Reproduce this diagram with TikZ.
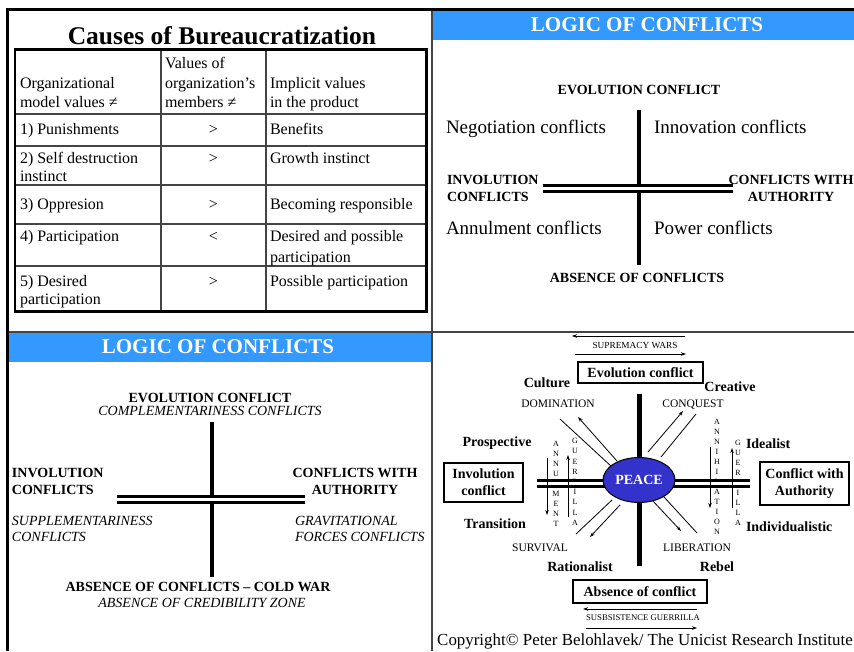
\documentclass[tikz,border=0pt]{standalone}
\usepackage{fontspec}
\setmainfont{Liberation Serif}
\usetikzlibrary{shapes.geometric,arrows.meta}
\definecolor{hdrblue}{HTML}{3399FF}
\definecolor{peaceblue}{HTML}{3333CC}
\definecolor{rulegray}{HTML}{444444}

\begin{document}
\begin{tikzpicture}[x=1pt,y=-1pt,
  lbl/.style={inner sep=0pt,outer sep=0pt,text depth=0pt},
  tb/.style={lbl,font=\fontsize{16}{19}\selectfont,text height=10.6pt,anchor=west},
  tbc/.style={lbl,font=\fontsize{16}{19}\selectfont,text height=10.6pt},
  ttl/.style={lbl,font=\fontsize{25.5}{30}\selectfont\bfseries,text height=16.8pt},
  hdr/.style={lbl,font=\fontsize{21}{25}\selectfont\bfseries,text height=13.9pt,text=white},
  capb/.style={lbl,font=\fontsize{14}{17}\selectfont\bfseries,text height=9.2pt},
  capi/.style={lbl,font=\fontsize{14}{17}\selectfont\itshape,text height=9.2pt},
  quad/.style={lbl,font=\fontsize{19}{23}\selectfont,text height=12.5pt,anchor=west},
  dirlbl/.style={lbl,font=\fontsize{11.5}{14}\selectfont,text height=7.6pt},
  warlbl/.style={lbl,font=\fontsize{9.3}{11}\selectfont,text height=6.1pt},
  sublbl/.style={lbl,font=\fontsize{8.7}{10}\selectfont,text height=5.7pt},
  cpr/.style={lbl,font=\fontsize{16.9}{20}\selectfont,text height=11.1pt},
  vlet/.style={inner sep=0pt,outer sep=0pt,font=\fontsize{8}{10}\selectfont,align=center,anchor=north},
  framebox/.style={draw,line width=1.2pt,font=\fontsize{14}{17}\selectfont\bfseries,align=center,inner sep=0pt},
  axisline/.style={line width=4.5pt},
  dbl/.style={double,line width=3pt,double distance=3pt},
  arr/.style={line width=0.8pt,-{Stealth[length=5pt,width=3.5pt]}},
  ln/.style={line width=0.8pt}]

\useasboundingbox (0,0) rectangle (854,651);
\fill[white] (0,0) rectangle (854,651);

% ---------- blue slide headers ----------
\fill[hdrblue] (433,10) rectangle (854,40);
\fill[hdrblue] (9,333) rectangle (433,362);

% ---------- slide frames ----------
\draw[rulegray,line width=1.5pt] (432,8) -- (432,651);
\draw[rulegray,line width=1.5pt] (7,332) -- (854,332);
\draw[line width=2.5pt] (6.3,9.3) -- (854,9.3);
\draw[line width=2.5pt] (7.5,8) -- (7.5,651);

% ================= Causes of Bureaucratization =================
\node[ttl] (title) at (222,36) {Causes of Bureaucratization};

% table rules
\draw[rulegray,line width=1.5pt] (161,49.5) -- (161,311.5);
\draw[rulegray,line width=1.5pt] (266,49.5) -- (266,311.5);
\foreach \ry in {114,146,185,224,266}
  \draw[rulegray,line width=1.5pt] (15,\ry) -- (426.5,\ry);
\draw[line width=2.5pt] (15,49.5) rectangle (426.5,311.5);

% header row
\node[tb] (h1a) at (20,83)  {Organizational};
\node[tb] (h1b) at (20,102) {model values ≠};
\node[tb] (h2a) at (165,63) {Values of};
\node[tb] (h2b) at (165,83) {organization’s};
\node[tb] (h2c) at (165,102) {members ≠};
\node[tb] (h3a) at (270,83) {Implicit values};
\node[tb] (h3b) at (270,102) {in the product};

% body rows
\node[tb]  (r1a) at (20,129)    {1) Punishments};
\node[tbc] (r1b) at (213.5,129) {>};
\node[tb]  (r1c) at (270,129)   {Benefits};

\node[tb]  (r2a) at (20,158)    {2) Self destruction};
\node[tb]  (r2d) at (20,176.5)  {instinct};
\node[tbc] (r2b) at (213.5,158) {>};
\node[tb]  (r2c) at (270,158)   {Growth instinct};

\node[tb]  (r3a) at (20,204)    {3) Oppresion};
\node[tbc] (r3b) at (213.5,204) {>};
\node[tb]  (r3c) at (270,204)   {Becoming responsible};

\node[tb]  (r4a) at (20,236)    {4) Participation};
\node[tbc] (r4b) at (213.5,236) {<};
\node[tb]  (r4c) at (270,236)   {Desired and possible};
\node[tb]  (r4d) at (270,257)   {participation};

\node[tb]  (r5a) at (20,281)    {5) Desired};
\node[tb]  (r5d) at (20,299)    {participation};
\node[tbc] (r5b) at (213.5,281) {>};
\node[tb]  (r5c) at (270,281)   {Possible participation};

% ================= Logic of conflicts (top right) =================
\node[hdr] (hdrA) at (647,25) {LOGIC OF CONFLICTS};
\node[capb] (evoA) at (639,90) {EVOLUTION CONFLICT};
\coordinate (vA1) at (639,110);
\coordinate (vA2) at (639,265);
\coordinate (hA1) at (543,188.5);
\coordinate (hA2) at (733,188.5);
\draw[axisline] (vA1) -- (vA2);
\draw[dbl] (hA1) -- (hA2);
\node[quad] (negA) at (446,127) {Negotiation conflicts};
\node[quad] (innA) at (654,127) {Innovation conflicts};
\node[quad] (annA) at (446,228) {Annulment conflicts};
\node[quad] (powA) at (654,228) {Power conflicts};
\node[capb,anchor=west] (invA1) at (447,180) {INVOLUTION};
\node[capb,anchor=west] (invA2) at (447,197) {CONFLICTS};
\node[capb] (autA1) at (791,180) {CONFLICTS WITH};
\node[capb] (autA2) at (791,197) {AUTHORITY};
\node[capb] (absA) at (637,278) {ABSENCE OF CONFLICTS};

% ================= Logic of conflicts (bottom left) =================
\node[hdr] (hdrB) at (218,347) {LOGIC OF CONFLICTS};
\node[capb] (evoB) at (210,398) {EVOLUTION CONFLICT};
\node[capi] (comB) at (210,411) {COMPLEMENTARINESS CONFLICTS};
\coordinate (vB1) at (212,422);
\coordinate (vB2) at (212,577);
\coordinate (hB1) at (117,499.5);
\coordinate (hB2) at (305,499.5);
\draw[axisline,line width=4pt] (vB1) -- (vB2);
\draw[dbl] (hB1) -- (hB2);
\node[capb,anchor=west] (invB1) at (12,473) {INVOLUTION};
\node[capb,anchor=west] (invB2) at (12,490) {CONFLICTS};
\node[capb] (autB1) at (355,473) {CONFLICTS WITH};
\node[capb] (autB2) at (355,490) {AUTHORITY};
\node[capi,anchor=west] (supB1) at (12,521) {SUPPLEMENTARINESS};
\node[capi,anchor=west] (supB2) at (12,537) {CONFLICTS};
\node[capi,anchor=west] (graB1) at (295,521) {GRAVITATIONAL};
\node[capi,anchor=west] (graB2) at (295,537) {FORCES CONFLICTS};
\node[capb] (absB) at (198,587) {ABSENCE OF CONFLICTS – COLD WAR};
\node[capi] (creB) at (202,603) {ABSENCE OF CREDIBILITY ZONE};

% ================= Peace diagram (bottom right) =================
\node[warlbl] (wars) at (635,345) {SUPREMACY WARS};
\coordinate (sw1) at (685,336);
\coordinate (sw2) at (572,336);
\coordinate (sw3) at (575,354);
\coordinate (sw4) at (686,354);
\draw[arr] (sw1) -- (sw2);
\draw[arr] (sw3) -- (sw4);

\node[framebox,minimum width=125pt,minimum height=21pt] (evoC) at (640.5,372.5) {Evolution conflict};
\node[capb] (cult) at (547,383) {Culture};
\node[capb] (crea) at (730,387) {Creative};
\node[dirlbl] (domi) at (558,404) {DOMINATION};
\node[dirlbl] (conq) at (693,404) {CONQUEST};

\coordinate (vC1) at (639,394);
\coordinate (vC2) at (639,566);
\draw[axisline,line width=5pt] (vC1) -- (vC2);

% diagonal flows around the centre
\coordinate (ul1) at (560,419);  \coordinate (ul2) at (612,467);
\coordinate (ul3) at (617,461);  \coordinate (ul4) at (578,417);
\coordinate (ur1) at (648,452);  \coordinate (ur2) at (683,411);
\coordinate (ur3) at (661,457);  \coordinate (ur4) at (696,414);
\coordinate (ll1) at (576,534);  \coordinate (ll2) at (612,500);
\coordinate (ll3) at (620,505);  \coordinate (ll4) at (590,537);
\coordinate (lr1) at (652,500);  \coordinate (lr2) at (681,531);
\coordinate (lr3) at (664,497);  \coordinate (lr4) at (697,533);
\draw[ln]  (ul1) -- (ul2);
\draw[arr] (ul3) -- (ul4);
\draw[arr] (ur1) -- (ur2);
\draw[ln]  (ur3) -- (ur4);
\draw[ln]  (ll1) -- (ll2);
\draw[arr] (ll3) -- (ll4);
\draw[arr] (lr1) -- (lr2);
\draw[ln]  (lr3) -- (lr4);

% vertical lettering
\node[vlet] (annu) at (556,441.3) {A\\N\\N\\U\\L\\M\\E\\N\\T};
\node[vlet,font=\fontsize{8}{10.2}\selectfont] (guel) at (575,438.3) {G\\U\\E\\R\\R\\I\\L\\L\\A};
\node[vlet] (anni) at (717,419.3) {A\\N\\N\\I\\H\\I\\L\\A\\T\\I\\O\\N};
\node[vlet] (guer) at (738,440.3) {G\\U\\E\\R\\R\\I\\L\\L\\A};

\coordinate (hC1) at (537,483.5);
\coordinate (hC2) at (750,483.5);
\draw[dbl] (hC1) -- (hC2);

\coordinate (va1) at (547,458); \coordinate (va2) at (547,515);
\coordinate (va3) at (568,517); \coordinate (va4) at (568,455);
\coordinate (va5) at (710,447); \coordinate (va6) at (710,508);
\coordinate (va7) at (732,508); \coordinate (va8) at (732,448);
\draw[arr] (va1) -- (va2);
\draw[arr] (va3) -- (va4);
\draw[arr] (va5) -- (va6);
\draw[arr] (va7) -- (va8);

\node[ellipse,draw,line width=1pt,fill=peaceblue,minimum width=72pt,minimum height=45pt,inner sep=0pt,
      text=white,font=\fontsize{14}{17}\selectfont\bfseries] (peace) at (639,480) {PEACE};

\node[framebox,minimum width=79pt,minimum height=39pt] (invC) at (483.5,482.5) {Involution\\conflict};
\node[framebox,minimum width=89pt,minimum height=43pt] (autC) at (804.5,483.5) {Conflict with\\Authority};

\node[capb] (pros) at (497,442) {Prospective};
\node[capb] (tran) at (495,524) {Transition};
\node[capb,anchor=west] (idea) at (746,444) {Idealist};
\node[capb,anchor=west] (indi) at (746,527) {Individualistic};

\node[dirlbl] (surv) at (540,548) {SURVIVAL};
\node[dirlbl] (libe) at (697,548) {LIBERATION};
\node[capb] (rati) at (580,567) {Rationalist};
\node[capb] (rebe) at (717,567) {Rebel};

\node[framebox,minimum width=134pt,minimum height=23pt] (absC) at (640,591.5) {Absence of conflict};
\coordinate (sg1) at (697,609);
\coordinate (sg2) at (583,609);
\coordinate (sg3) at (586,628);
\coordinate (sg4) at (697,628);
\draw[arr] (sg1) -- (sg2);
\draw[arr] (sg3) -- (sg4);
\node[sublbl] (subs) at (643,618) {SUSBSISTENCE GUERRILLA};

\node[cpr] (copy) at (645,640) {Copyright© Peter Belohlavek/ The Unicist Research Institute};

\end{tikzpicture}
\end{document}
